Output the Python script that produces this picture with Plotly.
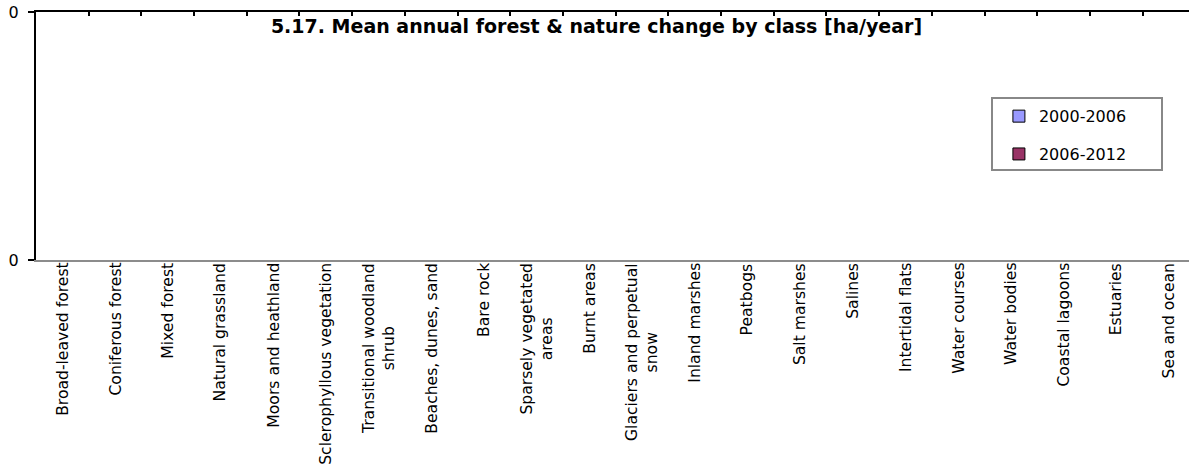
import plotly.graph_objects as go

categories = [
    "Broad-leaved forest", "Coniferous forest", "Mixed forest", "Natural grassland",
    "Moors and heathland", "Sclerophyllous vegetation", "Transitional woodland<br>shrub",
    "Beaches, dunes, sand", "Bare rock", "Sparsely vegetated<br>areas", "Burnt areas",
    "Glaciers and perpetual<br>snow", "Inland marshes", "Peatbogs", "Salt marshes",
    "Salines", "Intertidal flats", "Water courses", "Water bodies", "Coastal lagoons",
    "Estuaries", "Sea and ocean",
]
series_names = ["2000-2006", "2006-2012"]
values_2000_2006 = [0] * 22
values_2006_2012 = [0] * 22
y_tickvals = [0, 1]
y_ticktext = ["0", "0"]

colors = ["#9999FF", "#993366"]
font_main = "DejaVu Sans"

x_idx = list(range(len(categories)))
xrange = [-0.5, 21.38]

fig = go.Figure()
for name, vals, col, grp in zip(series_names, [values_2000_2006, values_2006_2012], colors, ["a", "b"]):
    # data bars (no outline so zero-height bars stay invisible)
    fig.add_trace(go.Bar(
        x=x_idx, y=vals, name=name, legendgroup=grp, showlegend=False,
        marker=dict(color=col, line=dict(width=0)),
    ))
    # legend entry with black outline
    fig.add_trace(go.Bar(
        x=[0], y=[None], name=name, legendgroup=grp, showlegend=True,
        marker=dict(color=col, line=dict(color="black", width=1)), hoverinfo="skip",
    ))

# invisible trace for the top axis
fig.add_trace(go.Scatter(x=[0], y=[0], xaxis="x2", yaxis="y", mode="markers",
                         marker=dict(opacity=0), showlegend=False, hoverinfo="skip"))

annotations = []
for i, cat in enumerate(categories):
    annotations.append(dict(
        x=i, xref="x", y=0, yref="paper", yshift=-1,
        text=cat, textangle=-90, xanchor="center", yanchor="top",
        align="center", showarrow=False,
        font=dict(family=font_main, size=15.6, color="black"),
    ))

plot_w = 1189 - 36
plot_h = 470 - 12 - 210
leg_x0 = (992 - 36) / plot_w
leg_x1 = (1162 - 36) / plot_w
leg_y1 = 1 - (98 - 12) / plot_h
leg_y0 = 1 - (170 - 12) / plot_h

fig.update_layout(
    width=1189, height=470,
    margin=dict(l=36, r=0, t=12, b=210, autoexpand=False),
    paper_bgcolor="white", plot_bgcolor="white",
    barmode="group",
    title=dict(text="<b>5.17. Mean annual forest &amp; nature change by class [ha/year]</b>",
               x=(275 + 918) / 2 / 1189, xref="container", xanchor="center",
               y=1 - 26 / 470, yref="container", yanchor="middle",
               font=dict(family=font_main, size=19, color="black")),
    xaxis=dict(range=xrange, showticklabels=False, ticks="", showgrid=False, automargin=False,
               zeroline=False, showline=True, linecolor="#8c8c8c", linewidth=2),
    xaxis2=dict(range=xrange, overlaying="x", side="top", anchor="y", automargin=False,
                tickmode="array", tickvals=[i - 0.5 for i in range(23)],
                showticklabels=False, ticks="inside", ticklen=4, tickwidth=2,
                tickcolor="black", showgrid=False, zeroline=False,
                showline=True, linecolor="black", linewidth=2),
    yaxis=dict(range=[0, 1], tickmode="array", tickvals=y_tickvals, ticktext=y_ticktext,
               ticks="outside", ticklen=6, tickwidth=2, tickcolor="black", automargin=False,
               ticklabelstandoff=6,
               showgrid=False, zeroline=False, showline=True, linecolor="black", linewidth=2,
               tickfont=dict(family=font_main, size=16, color="black")),
    legend=dict(x=leg_x0 + 0.006, y=leg_y1 - 0.005, xanchor="left", yanchor="top",
                borderwidth=0, bgcolor="rgba(0,0,0,0)",
                traceorder="grouped", tracegroupgap=14, itemwidth=30,
                font=dict(family=font_main, size=16, color="black")),
    shapes=[dict(type="rect", xref="paper", yref="paper",
                 x0=leg_x0, x1=leg_x1, y0=leg_y0, y1=leg_y1,
                 line=dict(color="#888888", width=2), fillcolor="rgba(0,0,0,0)", layer="below")],
    annotations=annotations,
    showlegend=True,
)

fig.write_html("out.html", post_script="document.body.style.margin='0';",
               config={"displayModeBar": False})
